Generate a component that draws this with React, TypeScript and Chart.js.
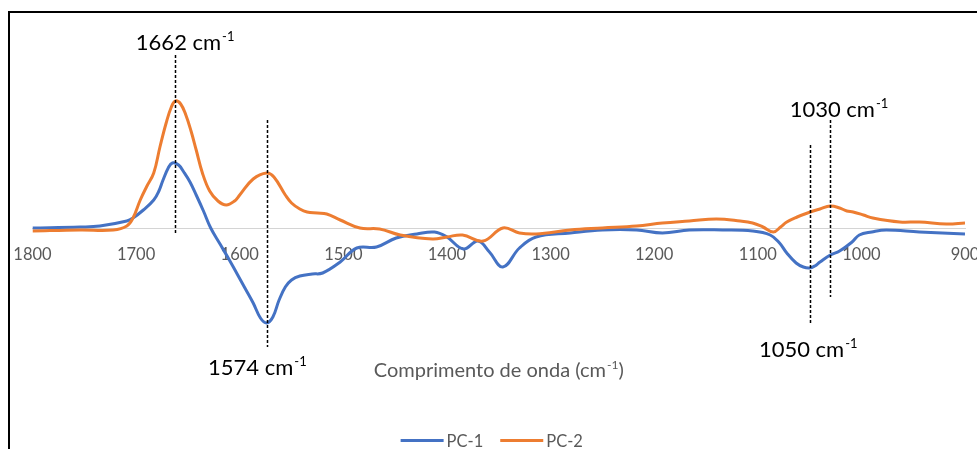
import { useEffect, useRef } from "react";
import { Chart, registerables } from "chart.js";

Chart.register(...registerables);

// Wavenumber axis (cm-1), drawn from high to low
const axisMin = 900;
const axisMax = 1800;
const axisStep = 100;

// PC-1 loadings
const pc1Wavenumbers = [
  1800, 1754, 1735, 1709, 1703, 1693, 1683, 1678, 1674, 1669,
  1665, 1659, 1654, 1648, 1642, 1635, 1628, 1619, 1610, 1603,
  1595, 1587, 1580, 1574, 1568, 1562, 1556, 1550, 1542, 1530,
  1520, 1503, 1487, 1468, 1449, 1429, 1412, 1400, 1384, 1370,
  1359, 1346, 1330, 1314, 1281, 1250, 1217, 1192, 1166, 1134,
  1105, 1088, 1079, 1072, 1063, 1056, 1050, 1045, 1040, 1030,
  1021, 1009, 1002, 990, 976, 944, 900,
];
const pc1Loadings = [
  0.000, 0.001, 0.002, 0.007, 0.010, 0.018, 0.028, 0.037, 0.048, 0.060,
  0.065, 0.063, 0.056, 0.046, 0.033, 0.017, 0.000, -0.016, -0.032, -0.045,
  -0.060, -0.075, -0.090, -0.095, -0.089, -0.072, -0.059, -0.052, -0.048, -0.046,
  -0.045, -0.034, -0.020, -0.019, -0.010, -0.006, -0.004, -0.009, -0.021, -0.013,
  -0.024, -0.039, -0.020, -0.009, -0.005, -0.002, -0.002, -0.005, -0.002, -0.002,
  -0.003, -0.007, -0.015, -0.025, -0.035, -0.039, -0.040, -0.038, -0.034, -0.027,
  -0.023, -0.014, -0.007, -0.004, -0.002, -0.004, -0.006,
];

// PC-2 loadings
const pc2Wavenumbers = [
  1800, 1754, 1722, 1709, 1703, 1696, 1690, 1683, 1677, 1671,
  1666, 1662, 1657, 1652, 1647, 1642, 1636, 1629, 1621, 1613,
  1605, 1600, 1587, 1574, 1567, 1556, 1550, 1542, 1535, 1525,
  1516, 1503, 1484, 1465, 1445, 1414, 1400, 1385, 1365, 1346,
  1330, 1314, 1281, 1250, 1217, 1192, 1166, 1140, 1117, 1105,
  1095, 1085, 1078, 1072, 1062, 1052, 1040, 1030, 1021, 1014,
  1008, 998, 989, 963, 944, 918, 900,
];
const pc2Loadings = [
  -0.003, -0.002, -0.002, 0.002, 0.010, 0.028, 0.041, 0.055, 0.081, 0.105,
  0.121, 0.127, 0.124, 0.113, 0.097, 0.078, 0.055, 0.037, 0.027, 0.023,
  0.027, 0.033, 0.049, 0.055, 0.051, 0.033, 0.025, 0.019, 0.016, 0.015,
  0.014, 0.008, 0.000, -0.001, -0.007, -0.011, -0.009, -0.007, -0.013, 0.000,
  -0.005, -0.006, -0.002, 0.000, 0.002, 0.005, 0.007, 0.009, 0.007, 0.005,
  0.001, -0.004, 0.001, 0.006, 0.011, 0.015, 0.019, 0.022, 0.020, 0.017,
  0.016, 0.013, 0.010, 0.006, 0.006, 0.004, 0.005,
];

const seriesNames = ["PC-1", "PC-2"];

// Bands highlighted with dashed markers
const markedBands = [1662, 1574, 1050, 1030];

const axisTitle = "Comprimento de onda (cm";

// ---- styling ----
const FONT = "Lato, 'Open Sans', sans-serif";
const seriesColors = ["#4472C4", "#ED7D31"];
const textGrey = "#595959";

// Marker extent and label baseline (in loading units), label nudge in px
const markerPlacement = [
  { top: 0.173, bottom: -0.007, labelBaseline: 0.178, dx: 3 },
  { top: 0.108, bottom: -0.119, labelBaseline: -0.147, dx: -16 },
  { top: 0.083, bottom: -0.095, labelBaseline: -0.129, dx: -8 },
  { top: 0.108, bottom: -0.069, labelBaseline: 0.111, dx: 2 },
];

function drawSupText(
  ctx: CanvasRenderingContext2D,
  main: string,
  sup: string,
  tail: string,
  cx: number,
  base: number,
  size: number,
  color: string,
  centerOnMain: boolean
) {
  const supSize = Math.round(size * 0.6);
  ctx.fillStyle = color;
  ctx.textBaseline = "alphabetic";
  ctx.textAlign = "left";
  ctx.font = `${size}px ${FONT}`;
  const mw = ctx.measureText(main).width;
  const tw = tail ? ctx.measureText(tail).width : 0;
  ctx.font = `${supSize}px ${FONT}`;
  const sw = ctx.measureText(sup).width;
  const total = mw + 1 + sw + tw;
  const left = centerOnMain ? cx - mw / 2 : cx - total / 2;
  ctx.font = `${size}px ${FONT}`;
  ctx.fillText(main, left, base);
  if (tail) ctx.fillText(tail, left + mw + 1 + sw, base);
  ctx.font = `${supSize}px ${FONT}`;
  ctx.fillText(sup, left + mw + 1, base - size * 0.4);
}

const overlayPlugin = {
  id: "bandOverlay",
  afterDraw(chart: any) {
    const { ctx, chartArea } = chart;
    const x = chart.scales.x;
    const y = chart.scales.y;
    ctx.save();

    // dashed band markers
    ctx.strokeStyle = "#000";
    ctx.lineWidth = 1.5;
    ctx.setLineDash([3, 2]);
    markedBands.forEach((wn, i) => {
      const p = markerPlacement[i];
      const px = Math.round(x.getPixelForValue(wn)) + 0.5;
      ctx.beginPath();
      ctx.moveTo(px, y.getPixelForValue(p.top));
      ctx.lineTo(px, y.getPixelForValue(p.bottom));
      ctx.stroke();
    });
    ctx.setLineDash([]);

    // band labels
    markedBands.forEach((wn, i) => {
      const p = markerPlacement[i];
      drawSupText(
        ctx,
        `${wn} cm`,
        "-1",
        "",
        x.getPixelForValue(wn) + p.dx,
        y.getPixelForValue(p.labelBaseline),
        22,
        "#000",
        true
      );
    });

    // axis title
    const midX = (chartArea.left + chartArea.right) / 2;
    drawSupText(ctx, axisTitle, "-1", ")", midX, 376.5, 20, textGrey, false);

    // legend
    const lineLen = 43;
    const gap = 3;
    const itemGap = 17;
    const legendSize = 16.5;
    ctx.font = `${legendSize}px ${FONT}`;
    const items = chart.data.datasets.map((ds: any) => ({
      label: ds.label as string,
      color: ds.borderColor as string,
      w: lineLen + gap + ctx.measureText(ds.label).width,
    }));
    const totalW =
      items.reduce((s: number, it: any) => s + it.w, 0) + itemGap * (items.length - 1);
    let lx = midX - 7 - totalW / 2;
    const ly = 440.5;
    items.forEach((it: any) => {
      ctx.strokeStyle = it.color;
      ctx.lineWidth = 3;
      ctx.lineCap = "butt";
      ctx.beginPath();
      ctx.moveTo(lx, ly);
      ctx.lineTo(lx + lineLen, ly);
      ctx.stroke();
      ctx.fillStyle = textGrey;
      ctx.textAlign = "left";
      ctx.textBaseline = "alphabetic";
      ctx.fillText(it.label, lx + lineLen + gap, 446.5);
      lx += it.w + itemGap;
    });

    ctx.restore();
  },
};

export default function App() {
  const canvasRef = useRef<HTMLCanvasElement | null>(null);

  useEffect(() => {
    const canvas = canvasRef.current;
    if (!canvas) return;

    const toPoints = (xs: number[], ys: number[]) => xs.map((v, i) => ({ x: v, y: ys[i] }));

    const lineStyle = {
      borderWidth: 3,
      pointRadius: 0,
      tension: 0.4,
      fill: false,
    };

    const chart = new Chart(canvas, {
      type: "line",
      data: {
        datasets: [
          {
            label: seriesNames[0],
            data: toPoints(pc1Wavenumbers, pc1Loadings),
            borderColor: seriesColors[0],
            backgroundColor: seriesColors[0],
            order: 2,
            ...lineStyle,
          },
          {
            label: seriesNames[1],
            data: toPoints(pc2Wavenumbers, pc2Loadings),
            borderColor: seriesColors[1],
            backgroundColor: seriesColors[1],
            order: 1,
            ...lineStyle,
          },
        ],
      },
      options: {
        responsive: false,
        animation: false,
        devicePixelRatio: 1,
        layout: { padding: { left: 32.5, right: 12, top: 20, bottom: 29 } },
        plugins: {
          legend: { display: false },
          tooltip: { enabled: false },
        },
        scales: {
          x: {
            type: "linear",
            reverse: true,
            min: axisMin,
            max: axisMax,
            position: { y: 0 },
            afterFit: (scale: any) => {
              scale.paddingLeft = 0;
              scale.paddingRight = 0;
            },
            grid: { display: false, drawTicks: false },
            border: { display: true, color: "#D4D4D4", width: 1 },
            ticks: {
              stepSize: axisStep,
              autoSkip: false,
              maxRotation: 0,
              padding: 17,
              color: textGrey,
              font: { family: FONT, size: 16.5 },
              callback: (v: any) => String(v),
            },
          },
          y: {
            display: false,
            min: -0.192,
            max: 0.208,
          },
        },
      } as any,
      plugins: [overlayPlugin],
    });

    return () => chart.destroy();
  }, []);

  return (
    <div
      style={{
        position: "fixed",
        left: 0,
        top: 0,
        width: 977,
        height: 449,
        overflow: "hidden",
        background: "#fff",
      }}
    >
      <div
        style={{
          position: "absolute",
          left: 8,
          top: 11,
          width: 1200,
          height: 1000,
          borderLeft: "2px solid #000",
          borderTop: "2px solid #000",
        }}
      />
      <canvas
        ref={canvasRef}
        width={977}
        height={449}
        style={{ position: "absolute", left: 0, top: 0, width: 977, height: 449 }}
      />
    </div>
  );
}
